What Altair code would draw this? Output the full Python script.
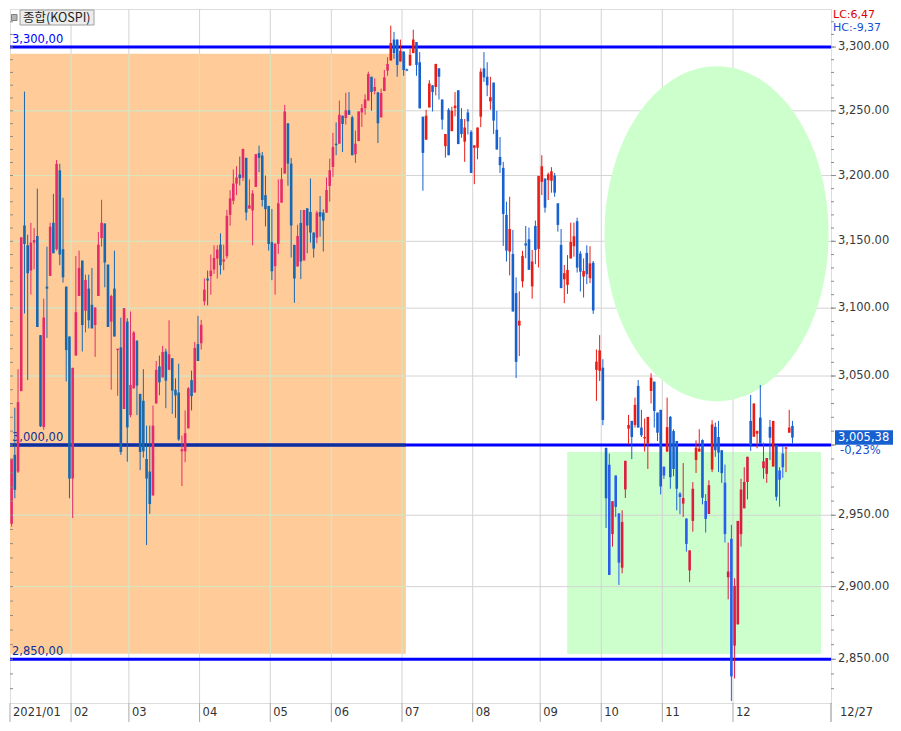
import altair as alt
import pandas as pd

# ---------------- data (KOSPI daily candles, 2021; trading-day index, Jan 4 = 0) ----------------
# each tuple: (open, high, low, close)
ohlc_jan = [(2944, 2990, 2942, 2990), (2993, 3027, 2962, 2968), (2981, 3055, 2980, 3031), (3039, 3153, 3039, 3153),
            (3162, 3265, 3096, 3148), (3147, 3155, 3047, 3126), (3128, 3164, 3110, 3149), (3149, 3160, 3129, 3151),
            (3154, 3190, 3086, 3086), (3080, 3080, 3013, 3013.5), (3013, 3107, 3011, 3093), (3116, 3146, 3078, 3114.5),
            (3124, 3164, 3124, 3161), (3164, 3186, 3141, 3141), (3144, 3212, 3143, 3209), (3204, 3209, 3132, 3140),
            (3144, 3183, 3119, 3123), (3116, 3116, 3046, 3069), (3079, 3079, 2962, 2976)]
ohlc_feb = [(2976, 3056, 2948, 3056), (3065, 3139, 3065, 3097), (3109, 3143, 3109, 3130), (3135.5, 3135.5, 3068, 3087.5),
            (3098, 3125, 3082, 3121), (3114.5, 3125, 3085, 3091), (3102.5, 3130, 3085, 3085), (3087.5, 3100.5, 3064, 3100.5),
            (3109, 3157, 3109, 3147.5), (3152.5, 3181.5, 3146, 3164), (3163.5, 3163.5, 3115.5, 3134), (3132.5, 3132.5, 3086, 3086),
            (3090, 3110, 3040, 3109), (3114.5, 3143, 3079, 3079), (3069, 3070, 3035.6, 3070), (3071, 3093, 2993, 2995),
            (3026, 3100, 3026, 3100), (3090, 3092.5, 2988, 3012.7)]
ohlc_mar = [(3021.6, 3097.5, 3020, 3043.5), (3041, 3083, 3041, 3082), (3076, 3076, 3021.6, 3043), (3037, 3037, 2982, 2995),
            (3032, 3055, 2991, 2995.5), (2990, 3014, 2929, 2976), (2981, 3014, 2951, 2958), (2964, 3028.5, 2964, 3014),
            (3030, 3061, 3030, 3054.5), (3057, 3065, 3036, 3045.4), (3049, 3072, 3049, 3067.6), (3068, 3070, 3026.6, 3046.6),
            (3054.5, 3091, 3054.5, 3066), (3063, 3063, 3022.5, 3039.4), (3040, 3048.3, 3019.6, 3035.8), (3038, 3059, 3003, 3004),
            (2995.5, 3006.8, 2970.7, 2997), (2995.5, 3025, 2987.7, 3008.5), (3012, 3042, 3012, 3041), (3047, 3054, 3025, 3035.3),
            (3038, 3075, 3038, 3070.6), (3073.4, 3094.3, 3061, 3061)]
ohlc_apr = [(3074, 3091.3, 3069.4, 3087.6), (3105, 3122, 3102, 3113.8), (3122, 3128, 3102, 3120.5), (3123.8, 3140, 3110, 3128),
            (3128.8, 3147, 3125.5, 3137.5), (3137, 3147, 3122, 3143.8), (3147.5, 3156, 3125, 3132), (3134.8, 3147.5, 3128.3, 3136.3),
            (3138.8, 3173.8, 3137, 3169.3), (3170, 3188.8, 3161.8, 3182.5), (3180.8, 3204.6, 3178, 3193.8), (3193.8, 3207.2, 3185, 3198.5),
            (3200.8, 3214.6, 3192.5, 3198), (3198.3, 3220.5, 3195.8, 3220.5), (3213.6, 3213.6, 3165.8, 3171.8), (3174.8, 3197, 3174.8, 3177.3),
            (3173.3, 3188.8, 3147, 3186.3), (3191.3, 3216.4, 3191.3, 3216.4), (3217.2, 3223, 3202.6, 3213.6), (3215.4, 3218, 3176.3, 3181.3),
            (3185, 3200, 3161.3, 3174.3), (3176.8, 3176.8, 3143, 3148)]
ohlc_may = [(3149.3, 3174.5, 3120.8, 3127.5), (3131.3, 3148.3, 3110, 3148.3), (3148, 3197, 3140.5, 3178.8), (3179.3, 3205.9, 3179.3, 3197.2),
            (3201.5, 3254.6, 3201.5, 3249.5), (3240.3, 3240.3, 3192.2, 3209.2), (3209.2, 3213.5, 3137.8, 3161.9), (3147.3, 3147.3, 3104, 3122.1),
            (3131.1, 3162.5, 3131.1, 3154), (3163.9, 3173.7, 3121.6, 3134.8), (3135.6, 3173.7, 3135.6, 3173.7), (3175, 3175, 3141, 3161.9),
            (3172.2, 3197.7, 3149, 3156.6), (3156.6, 3156.6, 3137.8, 3144.5), (3152.8, 3173.2, 3148.5, 3171.7), (3172.2, 3184.3, 3153.5, 3168.7),
            (3171.7, 3174.2, 3142.3, 3165.7), (3171.7, 3198.5, 3171.7, 3188.9), (3192.1, 3213, 3180.1, 3204.1)]
ohlc_jun = [(3206.6, 3232.9, 3199, 3222), (3224.5, 3241, 3215.6, 3223.3), (3224.5, 3258, 3224.5, 3246.9), (3246.2, 3246.2, 3218.1, 3239.8),
            (3244.4, 3264, 3239.3, 3250.4), (3250.4, 3264.6, 3246.9, 3246.9), (3244.9, 3246.2, 3215.6, 3215.6), (3216.3, 3234.7, 3209.7, 3224.5),
            (3226.5, 3249.5, 3226.5, 3249.5), (3248.7, 3255.3, 3237.5, 3252.1), (3252.1, 3262.8, 3246.9, 3258.8), (3258, 3280.6, 3258, 3278.7),
            (3276.6, 3276.6, 3250, 3264.6), (3265.4, 3275.3, 3262.8, 3268.6), (3264.4, 3264.4, 3225, 3240.3), (3244.9, 3267.3, 3244.9, 3263.8),
            (3265.4, 3281.9, 3265.4, 3276.1), (3281.4, 3292, 3277.4, 3286.7), (3289.4, 3317, 3289.4, 3303.2), (3305.9, 3312, 3290.7, 3295.2),
            (3305.9, 3305.9, 3276.6, 3285.9), (3288.6, 3305.9, 3288.6, 3297.1)]
ohlc_jul = [(3296.5, 3296.5, 3277.4, 3281.9), (3282.4, 3283, 3281, 3281.4), (3285.4, 3298.4, 3285.4, 3293.9), (3295.2, 3313.8, 3295.2, 3305.9),
            (3304, 3304, 3277.4, 3285.9), (3288, 3296, 3251.9, 3251.9), (3245.4, 3245.4, 3188.4, 3217.4), (3227.6, 3250.8, 3227.6, 3246.2),
            (3252.6, 3273.9, 3252.6, 3271.3), (3269.9, 3269.9, 3249.5, 3264.6), (3268.6, 3286.7, 3262, 3286.7), (3283.2, 3283.2, 3258.8, 3276.6),
            (3258.8, 3258.8, 3235.5, 3243.1), (3222.6, 3232, 3213.8, 3232), (3250.8, 3252.1, 3215.6, 3215.6), (3234.2, 3253.2, 3234.2, 3250),
            (3252.1, 3264.6, 3245.7, 3254), (3266, 3266, 3224.2, 3224.2), (3243.6, 3252.1, 3229.1, 3232), (3226, 3243.6, 3210.5, 3237),
            (3248.7, 3251.3, 3231.6, 3241.8), (3233.7, 3235, 3202, 3202)]
ohlc_aug = [(3221.4, 3223.2, 3193.4, 3223.2), (3221.4, 3237, 3212.5, 3237), (3245.4, 3283.2, 3237.3, 3280.6), (3283.2, 3296, 3272.6, 3276.1),
            (3276.6, 3288, 3261.4, 3269.9), (3257.4, 3276.6, 3250.8, 3260.6), (3272, 3272, 3232, 3242.4), (3235.3, 3250, 3220, 3220),
            (3214.3, 3229.6, 3202, 3207.9), (3205.9, 3210.5, 3146.5, 3170.7), (3170, 3180, 3134.8, 3143), (3142.3, 3183.8, 3124.4, 3159.3),
            (3140.5, 3158.6, 3097.5, 3097.5), (3111.2, 3122.9, 3048.5, 3060.4), (3087.1, 3112.5, 3064.6, 3090.6), (3119.9, 3142.8, 3115.4, 3139),
            (3148.5, 3161.6, 3137.3, 3146.8), (3151.5, 3160.4, 3128.6, 3128.6), (3116.2, 3143.5, 3107, 3134.8), (3161.6, 3165.7, 3132.8, 3143.5),
            (3144.3, 3199.7, 3130.3, 3199.7)]
ohlc_sep = [(3195.2, 3215.6, 3185.1, 3207.1), (3197.7, 3197.7, 3171.7, 3175.5), (3196.5, 3202.3, 3181.3, 3201), (3196, 3206.4, 3186.9, 3203.3),
            (3200, 3202, 3183.8, 3186.9), (3178.8, 3178.8, 3157.3, 3162.4), (3147.3, 3159.3, 3114.9, 3114.9), (3121.5, 3132.2, 3103.7, 3126),
            (3117.3, 3139.6, 3110.6, 3128.5), (3137.1, 3164.1, 3137.1, 3149.5), (3146.3, 3164.1, 3138.4, 3153.8), (3165.2, 3167.9, 3126.5, 3130.2),
            (3140.8, 3142.6, 3112.4, 3127.2), (3123.5, 3137.1, 3107.9, 3127.7), (3141.3, 3147, 3117.8, 3125.3), (3122.3, 3146.3, 3118.6, 3133.4),
            (3133.9, 3135.2, 3095.8, 3098.3), (3054.5, 3069.5, 3031.9, 3060.5), (3053.8, 3080, 3046.4, 3068.8)]
ohlc_oct = [(3056.1, 3062.3, 3014.3, 3018.1), (2998, 2998, 2941, 2962), (2985.9, 2993.9, 2908.1, 2908.1), (2936.7, 2959.9, 2927.9, 2959.9),
            (2978.2, 2978.2, 2948.8, 2955.9), (2951.2, 2951.6, 2901.2, 2916.7), (2913.2, 2953.5, 2909.3, 2945.3), (2968.3, 2988.7, 2962.2, 2988.7),
            (3011.8, 3021.7, 3000.5, 3014.5), (3017.4, 3017.4, 2989.9, 3005.8), (3014.5, 3034.3, 3012.6, 3029), (3042.8, 3047.1, 3012.6, 3012.6),
            (3012.6, 3025.4, 3005.8, 3007), (3004.8, 3019.1, 2995.3, 3005.8), (3001.2, 3020.3, 2982.9, 3020.3), (3039.1, 3052, 3030, 3048.8),
            (3045.9, 3045.9, 3012.6, 3024.6), (3023.4, 3023.4, 3002.9, 3008.9), (3025.4, 3025.4, 2964.8, 2970.4)]
ohlc_nov = [(2984.5, 2984.5, 2975.8, 2978.2), (2995.3, 3034.3, 2995.3, 3012.9), (3020.3, 3021, 2968.8, 2977), (3010.1, 3011.3, 2977.7, 2982.9),
            (3002.9, 3002.9, 2953.5, 2968.8), (2965.3, 2966.4, 2950.7, 2962.9), (2958.2, 2987.1, 2948.8, 2962.2), (2947.7, 2947.7, 2924.4, 2929.8),
            (2911.3, 2925.3, 2903.1, 2925.3), (2946, 2973.5, 2938.4, 2968.8), (2989.3, 3003.4, 2980, 2998.1), (2995.3, 3011.4, 2995.3, 2997.4),
            (3003.6, 3004.1, 2957.7, 2962.4), (2960.1, 2965, 2937.8, 2947.4), (2950.9, 2974.8, 2950.9, 2971.3), (2982.5, 3017.9, 2980.6, 3014.8),
            (3013.1, 3016.2, 2991.6, 2996.3), (3005.8, 3017.4, 2980.6, 2994.6), (2996.3, 2996.3, 2972.9, 2979.9), (2973.1, 2986, 2930.8, 2936.7),
            (2906.5, 2930.8, 2891.2, 2910.5), (2933.4, 2943.2, 2821.7, 2838.3)]
ohlc_dec = [(2859.3, 2905.8, 2836.9, 2900.5), (2873.9, 2946, 2873.9, 2946), (2936.7, 2975.9, 2928, 2968.2), (2954.9, 2984.1, 2954.9, 2973.6),
            (2973.6, 2991.6, 2961.2, 2991.6), (3017.4, 3036.2, 2995.8, 3000), (3006, 3030, 3006, 3030), (3008.2, 3010.2, 2997.7, 3010.2),
            (3019.8, 3043.5, 3001, 3001), (2983.4, 3001.7, 2975.9, 2988.3), (2979.4, 2990.7, 2972.9, 2990.7), (3013.1, 3018.1, 2989.3, 3005.3),
            (2984.6, 3017.4, 2984.6, 3017.4), (3000, 3000, 2960.3, 2963.1), (2981.8, 2984.1, 2956.1, 2975.2), (2993.9, 2999.3, 2976.6, 2984.1),
            (2997.4, 2998.6, 2980.6, 2998.1), (3008.9, 3025.4, 3008.9, 3012.6), (3013.8, 3017.4, 3001, 3005.38)]

first_index = 1  # first visible candle = Jan 5
month_labels = ["2021/01", "02", "03", "04", "05", "06", "07", "08", "09", "10", "11", "12"]
month_first_day = [0, 20, 38, 60, 82, 101, 123, 145, 166, 185, 204, 226]
y_ticks = [2850, 2900, 2950, 3000, 3050, 3100, 3150, 3200, 3250, 3300]
minor_ticks = list(range(2830, 3330, 10))
key_levels = [3300, 3000, 2850]
key_level_labels = ["3,300,00", "3,000,00", "2,850,00"]
last_price = 3005.38
last_price_text = "3,005,38"
last_change_text = "-0,23%"
lc_text, hc_text = "LC:6,47", "HC:-9,37"
last_date_text = "12/27"
title_text = "종합(KOSPI)"
# highlighted zones in (trading-day index, index value)
orange_zone = {"x1": 0.5, "x2": 123.7, "y1": 2853.7, "y2": 3294.7}
green_zone = {"x1": 173.9, "x2": 252.9, "y1": 2853.6, "y2": 2995.1}
ellipse_center = {"x": 220.4, "y": 3155.8}

# ---------------- styling ----------------
W, H = 821, 694
X_DOMAIN = [0.5, 256.0]
Y_DOMAIN = [2820.3, 3330.2]
ORANGE, GREEN = "#FFCC99", "#CCFFCC"
GRID, GRID_IN_ORANGE = "#d3d3d3", "#dbe7b6"
LEVEL_BLUE, LEVEL_NAVY = "#0000FF", "#0A3296"
RED, BLUE = "#EA1C14", "#1660D0"
PINK, DBLUE = "#E52C6A", "#1668B0"
CRIMSON, BBLUE = "#DC1C40", "#2A5CF0"
AXIS_GRAY = "#8c8c8c"
FONT = "DejaVu Sans"

xs = alt.Scale(domain=X_DOMAIN, nice=False, zero=False, padding=0)
ys = alt.Scale(type="log", domain=Y_DOMAIN, nice=False, padding=0)


def X(f):
    return alt.X(f, type="quantitative", scale=xs, axis=None)


def Y(f):
    return alt.Y(f, type="quantitative", scale=ys, axis=None)


# ---------------- tables ----------------
candles = (ohlc_jan + ohlc_feb + ohlc_mar + ohlc_apr + ohlc_may + ohlc_jun +
           ohlc_jul + ohlc_aug + ohlc_sep + ohlc_oct + ohlc_nov + ohlc_dec)
df = pd.DataFrame(candles, columns=["open", "high", "low", "close"])
df["idx"] = range(first_index, first_index + len(df))
df["b_lo"] = df[["open", "close"]].min(axis=1)
df["b_hi"] = pd.concat([df[["open", "close"]].max(axis=1), df["b_lo"] + 0.9], axis=1).max(axis=1)


def pick_color(r):
    up = r["close"] >= r["open"]
    if r["idx"] <= 118:
        return PINK if up else DBLUE
    if r["idx"] >= green_zone["x1"] and max(r["open"], r["close"]) < green_zone["y2"]:
        return CRIMSON if up else BBLUE
    return RED if up else BLUE


df["col"] = df.apply(pick_color, axis=1)

bounds = [max(d - 0.5, X_DOMAIN[0]) for d in month_first_day]
months_df = pd.DataFrame({"b": bounds, "label": month_labels})
vgrid_df = pd.DataFrame({"b": bounds[1:]})
ogrid_h = pd.DataFrame({"v": [v for v in y_ticks if orange_zone["y1"] < v < orange_zone["y2"]]})
ogrid_h["x1"], ogrid_h["x2"] = orange_zone["x1"], orange_zone["x2"]
ogrid_v = pd.DataFrame({"b": [b for b in bounds[1:] if b < orange_zone["x2"]]})
ogrid_v["y1"], ogrid_v["y2"] = orange_zone["y1"], orange_zone["y2"]
levels_df = pd.DataFrame({"v": key_levels, "t": key_level_labels,
                          "c": [LEVEL_NAVY if orange_zone["y1"] - 10 < v < orange_zone["y2"] else LEVEL_BLUE
                                for v in key_levels]})
ticks_df = pd.DataFrame({"v": y_ticks, "t": [f"{v:,.2f}" for v in y_ticks]})
# the current-price tag hides the axis label next to it
labels_df = ticks_df[(ticks_df["v"] / last_price - 1).abs() > 0.004]
one = pd.DataFrame({"d": [0]})

# ---------------- layers ----------------
orange = alt.Chart(pd.DataFrame([orange_zone])).mark_rect(color=ORANGE).encode(
    x=X("x1"), x2="x2", y=Y("y1"), y2="y2")
green = alt.Chart(pd.DataFrame([green_zone])).mark_rect(color=GREEN).encode(
    x=X("x1"), x2="x2", y=Y("y1"), y2="y2")
grid_h = alt.Chart(pd.DataFrame({"v": y_ticks})).mark_rule(color=GRID, strokeWidth=1).encode(y=Y("v"))
grid_v = alt.Chart(vgrid_df).mark_rule(color=GRID, strokeWidth=1).encode(x=X("b"))
ogrid_hl = alt.Chart(ogrid_h).mark_rule(color=GRID_IN_ORANGE, strokeWidth=1).encode(
    y=Y("v"), x=X("x1"), x2="x2")
ogrid_vl = alt.Chart(ogrid_v).mark_rule(color=GRID_IN_ORANGE, strokeWidth=1).encode(
    x=X("b"), y=Y("y1"), y2="y2")

ell_ratio = 112.0 / 167.5
ell_path = f"M0,-1 A{ell_ratio:.4f},1 0 1,1 0,1 A{ell_ratio:.4f},1 0 1,1 0,-1 Z"
ellipse = alt.Chart(pd.DataFrame([ellipse_center])).mark_point(
    shape=ell_path, size=335 * 335, filled=True, color=GREEN, opacity=1, strokeWidth=0).encode(
    x=X("x"), y=Y("y"))

level_lines = alt.Chart(pd.DataFrame({"v": key_levels})).mark_rule(
    color=LEVEL_BLUE, strokeWidth=3).encode(y=Y("v"))
navy_seg = alt.Chart(pd.DataFrame({"v": [3000], "x1": [orange_zone["x1"]], "x2": [orange_zone["x2"]]})).mark_rule(
    color=LEVEL_NAVY, strokeWidth=3).encode(y=Y("v"), x=X("x1"), x2="x2")
level_text = alt.Chart(levels_df).mark_text(
    align="left", baseline="alphabetic", dy=-4, font=FONT, fontSize=11.5).encode(
    x=alt.value(2), y=Y("v"), text="t:N", color=alt.Color("c:N", scale=None))

wicks = alt.Chart(df).mark_rule(strokeWidth=1).encode(
    x=X("idx"), y=Y("low"), y2="high", color=alt.Color("col:N", scale=None))
bodies = alt.Chart(df).mark_bar(size=2.6).encode(
    x=X("idx"), y=Y("b_lo"), y2="b_hi", color=alt.Color("col:N", scale=None))

# right price axis (ticks + labels), minor ticks on both edges
major_ticks = alt.Chart(ticks_df).mark_rule(color=AXIS_GRAY).encode(
    y=Y("v"), x=alt.value(W), x2=alt.value(W + 5))
tick_labels = alt.Chart(labels_df).mark_text(
    align="left", baseline="middle", font=FONT, fontSize=11.5, color="#3a3a3a").encode(
    y=Y("v"), x=alt.value(W + 7), text="t:N")
minor_r = alt.Chart(pd.DataFrame({"v": minor_ticks})).mark_rule(color=AXIS_GRAY).encode(
    y=Y("v"), x=alt.value(W), x2=alt.value(W + 3))
minor_l = alt.Chart(pd.DataFrame({"v": minor_ticks})).mark_rule(color=AXIS_GRAY).encode(
    y=Y("v"), x=alt.value(0), x2=alt.value(3))

# month axis
sep = alt.Chart(months_df).mark_rule(color="#a8a8a8").encode(
    x=X("b"), y=alt.value(H), y2=alt.value(H + 19))
month_text = alt.Chart(months_df).mark_text(
    align="left", baseline="middle", dx=3, font=FONT, fontSize=11.5, color="#333333").encode(
    x=X("b"), y=alt.value(H + 10), text="label:N")
right_sep = alt.Chart(one).mark_rule(color=AXIS_GRAY).encode(
    x=alt.value(W), y=alt.value(H), y2=alt.value(H + 19))
date_text = alt.Chart(one).mark_text(
    align="left", baseline="middle", font=FONT, fontSize=11.5, color="#333333", text=last_date_text).encode(
    x=alt.value(W + 9), y=alt.value(H + 10))

# title tag, LC/HC, current price tag
title_box = alt.Chart(one).mark_rect(fill="#ececec", stroke="#a0a0a0", strokeWidth=1).encode(
    x=alt.value(10), x2=alt.value(84), y=alt.value(1), y2=alt.value(16))
title_icon = alt.Chart(one).mark_rect(fill="#b4b4b4", stroke="#808080", strokeWidth=1).encode(
    x=alt.value(1.5), x2=alt.value(7), y=alt.value(5.5), y2=alt.value(11.5))
title = alt.Chart(one).mark_text(
    align="left", baseline="middle", font="Noto Sans CJK KR", fontSize=12.5, color="#222222",
    text=title_text).encode(x=alt.value(13), y=alt.value(8.5))

lc = alt.Chart(one).mark_text(align="left", baseline="top", font=FONT, fontSize=11,
                              color="#E00000", text=lc_text).encode(x=alt.value(W + 2), y=alt.value(0))
hc = alt.Chart(one).mark_text(align="left", baseline="top", font=FONT, fontSize=11,
                              color="#1450D0", text=hc_text).encode(x=alt.value(W + 2), y=alt.value(13))

price_df = pd.DataFrame({"p": [last_price]})
price_box = alt.Chart(price_df).mark_point(
    shape="M-1,-0.25 L1,-0.25 L1,0.25 L-1,0.25 Z", size=58 * 58, filled=True, color="#1660D0",
    opacity=1, strokeWidth=0).encode(x=alt.value(W + 4 + 29), y=Y("p"))
price_text = alt.Chart(price_df).mark_text(
    align="left", baseline="middle", font=FONT, fontSize=11.5, color="white", text=last_price_text).encode(
    x=alt.value(W + 7), y=Y("p"))
change_text = alt.Chart(price_df).mark_text(
    align="left", baseline="middle", dy=13, font=FONT, fontSize=11.5, color="#1450D0",
    text=last_change_text).encode(x=alt.value(W + 9), y=Y("p"))

chart = alt.layer(
    orange, green, grid_h, grid_v, ogrid_hl, ogrid_vl, ellipse,
    level_lines, navy_seg, level_text,
    wicks, bodies,
    major_ticks, minor_r, minor_l, tick_labels,
    sep, right_sep, month_text, date_text,
    title_box, title_icon, title, lc, hc, price_box, price_text, change_text
).properties(
    width=W, height=H, padding=0
).configure_view(
    stroke="#a0a0a0", strokeWidth=1
).configure(
    font=FONT
)

chart.save("out.html", embed_options={"renderer": "svg", "actions": False})
